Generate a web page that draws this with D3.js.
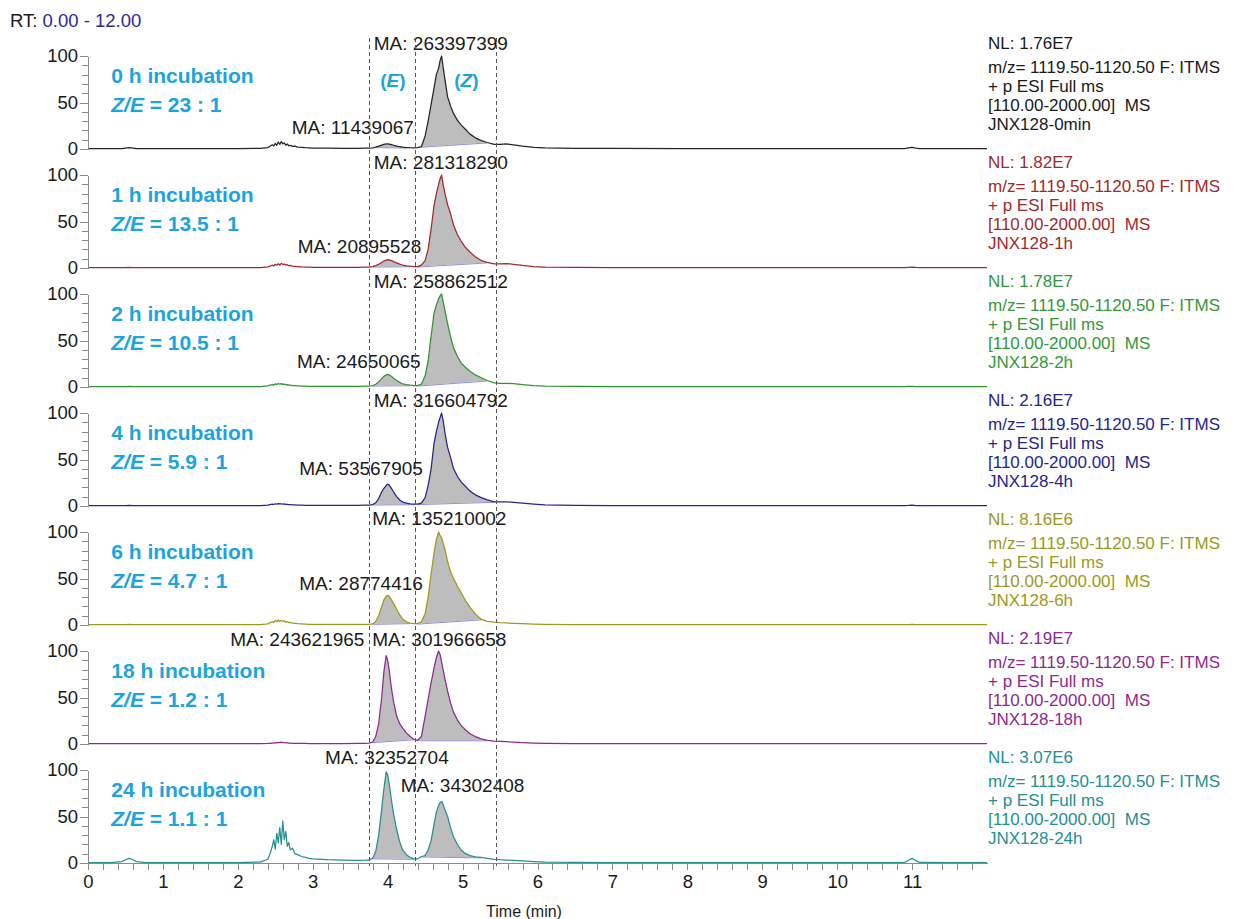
<!DOCTYPE html>
<meta charset="utf-8">
<style>
body { margin: 0; background: #fff; }
svg { font-family: Arial, "Liberation Sans", sans-serif; }
.axis path, .axis line { fill: none; stroke: #8a8a8a; stroke-width: 1; shape-rendering: crispEdges; }
.axis text { font-size: 18.5px; fill: #1a1a1a; font-family: Arial, "Liberation Sans", sans-serif; }
.trace { fill: none; stroke-width: 1.25; stroke-linejoin: round; }
.area { fill: #bdbdbd; stroke: none; }
.ibase { fill: none; stroke: #9090dd; stroke-width: 1; }
.ma { font-size: 19px; fill: #1a1a1a; }
.tag { font-size: 21px; font-weight: bold; fill: #1ba4de; }
.info { font-size: 17px; }
.cut { stroke: #555; stroke-width: 1; stroke-dasharray: 4,3; shape-rendering: crispEdges; }
</style>
<body>
<script src="https://d3js.org/d3.v7.min.js"></script>
<script>
// retention time grid (min), shared by all traces
var rt = [
  0, 0.30, 0.45, 0.50, 0.55, 0.60, 0.65, 0.75, 1.00, 1.50, 2.00,
  2.30, 2.40, 2.43, 2.46, 2.48, 2.50, 2.52, 2.54, 2.56, 2.58, 2.60, 2.62, 2.64, 2.66, 2.68, 2.70, 2.73, 2.76, 2.80, 2.85, 2.90, 2.95, 3.00,
  3.20, 3.40, 3.60, 3.70,
  3.75, 3.80, 3.84, 3.88, 3.92, 3.95, 3.98, 4.00, 4.02, 4.05, 4.08, 4.12, 4.16, 4.20, 4.25, 4.30, 4.35,
  4.40, 4.45, 4.50, 4.54, 4.58, 4.62, 4.65, 4.68, 4.70, 4.72, 4.74, 4.77, 4.80, 4.84, 4.88, 4.93, 4.98, 5.04, 5.10, 5.17, 5.25, 5.33, 5.42,
  5.50, 5.58, 5.68, 5.80, 5.95, 6.10, 6.50, 7.00, 8.00, 9.00, 10.00, 10.90, 10.95, 11.00, 11.05, 11.10, 11.50, 12.00
];

// relative abundance (%) per incubation time
var int0h = [
  0.3, 0.3, 0.4, 1.0, 1.6, 1.0, 0.4, 0.3, 0.3, 0.3, 0.4,
  0.6, 1.5, 3.0, 4.5, 3.2, 6.0, 4.0, 7.5, 5.0, 8.0, 5.5, 6.5, 4.0, 5.5, 3.5, 4.0, 2.8, 3.0, 2.0, 1.8, 1.4, 1.2, 1.0,
  0.9, 0.8, 0.8, 0.9,
  1.0, 1.3, 2.0, 3.0, 4.2, 5.0, 5.4, 5.5, 5.3, 4.8, 4.0, 3.2, 2.6, 2.0, 1.6, 1.4, 1.3,
  1.4, 2.5, 14, 30, 48, 66, 80, 87, 95, 100, 88, 72, 56, 46, 38, 31, 26, 21, 16, 12, 9, 7, 5,
  5, 5.5, 4.5, 3, 1.8, 1.2, 0.8, 0.6, 0.5, 0.5, 0.5, 0.5, 1.2, 1.8, 1.0, 0.5, 0.4, 0.4
];
var int1h = [
  0.3, 0.3, 0.3, 0.5, 0.8, 0.5, 0.3, 0.3, 0.3, 0.3, 0.3,
  0.5, 1.2, 2.0, 3.0, 2.2, 4.0, 3.0, 4.5, 3.2, 5.0, 3.8, 4.2, 3.0, 3.6, 2.4, 2.8, 2.0, 1.8, 1.5, 1.2, 1.0, 0.9, 0.8,
  0.8, 0.8, 0.8, 0.9,
  1.0, 1.5, 2.5, 4.0, 6.0, 7.5, 8.5, 9.0, 8.8, 8.0, 6.8, 5.5, 4.2, 3.2, 2.4, 1.9, 1.6,
  1.5, 3, 8, 20, 42, 68, 80, 90, 96, 100, 90, 78, 68, 58, 46, 36, 29, 22, 17, 12, 8, 6, 4.5,
  4.5, 4.8, 4.0, 2.8, 1.6, 1.0, 0.6, 0.5, 0.4, 0.4, 0.4, 0.4, 0.7, 1.0, 0.6, 0.4, 0.3, 0.3
];
var int2h = [
  0.3, 0.3, 0.3, 0.5, 0.8, 0.5, 0.3, 0.3, 0.3, 0.3, 0.3,
  0.5, 1.2, 2.0, 2.6, 2.0, 3.4, 2.6, 3.8, 3.0, 3.6, 2.8, 3.0, 2.4, 2.6, 2.0, 2.0, 1.6, 1.4, 1.2, 1.0, 0.9, 0.8, 0.8,
  0.8, 0.8, 0.8, 0.9,
  1.0, 1.5, 3.0, 5.5, 9.0, 11.5, 13.0, 13.5, 13.0, 11.5, 9.5, 7.0, 5.0, 3.5, 2.5, 1.9, 1.6,
  1.5, 3, 12, 28, 55, 80, 88, 95, 98, 100, 92, 80, 68, 54, 42, 33, 26, 21, 17, 13, 10, 7, 4.5,
  4, 4, 3.5, 2.5, 1.5, 1.0, 0.6, 0.5, 0.4, 0.4, 0.4, 0.4, 0.6, 0.8, 0.5, 0.4, 0.3, 0.3
];
var int4h = [
  0.3, 0.3, 0.3, 0.4, 0.6, 0.4, 0.3, 0.3, 0.3, 0.3, 0.3,
  0.5, 1.0, 1.5, 2.0, 1.6, 2.4, 2.0, 2.6, 2.2, 2.4, 2.0, 2.2, 1.8, 1.8, 1.5, 1.5, 1.3, 1.2, 1.0, 0.9, 0.8, 0.7, 0.7,
  0.7, 0.7, 0.8, 0.9,
  1.0, 1.5, 3.5, 8, 15, 19, 22, 23.5, 22.5, 19, 15, 10, 6.5, 4.2, 3.0, 2.3, 2.0,
  2.0, 3.0, 9, 22, 40, 68, 80, 90, 95, 100, 92, 76, 63, 52, 40, 32, 26, 21, 16, 12, 9, 6.5, 4.5,
  4.5, 4.5, 4, 3, 2, 1.2, 0.7, 0.5, 0.4, 0.4, 0.4, 0.4, 0.6, 0.9, 0.5, 0.4, 0.3, 0.3
];
var int6h = [
  0.3, 0.3, 0.3, 0.5, 0.7, 0.5, 0.3, 0.3, 0.3, 0.3, 0.3,
  0.5, 1.2, 2.5, 3.5, 2.8, 5.0, 3.5, 5.5, 4.0, 5.2, 3.6, 4.5, 3.0, 3.8, 2.5, 2.8, 2.0, 1.8, 1.4, 1.2, 1.0, 0.8, 0.7,
  0.6, 0.6, 0.6, 0.6,
  0.8, 1.2, 3.5, 10, 20, 27, 31, 32, 31, 27, 23, 17, 11, 6.5, 3.5, 2.0, 1.5,
  1.5, 3.5, 12, 30, 55, 78, 92, 100, 96, 94, 88, 80, 68, 57, 50, 42, 35, 26, 19, 12, 6, 4, 3,
  2.5, 2.2, 1.8, 1.4, 1.0, 0.8, 0.5, 0.4, 0.3, 0.3, 0.3, 0.3, 0.5, 0.7, 0.4, 0.3, 0.3, 0.3
];
var int18h = [
  0.3, 0.3, 0.3, 0.4, 0.5, 0.4, 0.3, 0.3, 0.3, 0.3, 0.3,
  0.4, 0.6, 0.8, 1.0, 0.9, 1.4, 1.2, 1.8, 1.5, 2.0, 1.4, 1.6, 1.2, 1.2, 1.0, 1.0, 0.8, 0.8, 0.7, 0.6, 0.6, 0.5, 0.5,
  0.5, 0.5, 0.6, 0.8,
  1.0, 2, 8, 22, 50, 78, 95, 90, 80, 60, 45, 30, 22, 17, 12, 8, 5,
  4, 8, 30, 48, 66, 82, 93, 100, 96, 88, 80, 68, 57, 44, 34, 26, 20, 15, 11, 8, 5.5, 4, 3.2,
  2.8, 2.5, 2.0, 1.5, 1.0, 0.7, 0.5, 0.4, 0.3, 0.3, 0.3, 0.3, 0.4, 0.5, 0.4, 0.3, 0.3, 0.3
];
var int24h = [
  0.3, 0.5, 1.5, 3.5, 5.0, 3.5, 1.5, 0.6, 0.4, 0.4, 0.5,
  1.0, 4, 10, 18, 25, 15, 32, 22, 38, 20, 45, 25, 34, 18, 22, 14, 16, 10, 9, 7, 6, 5, 4.5,
  3.5, 3.0, 2.8, 3.0,
  3.2, 5, 12, 30, 58, 80, 98, 95, 85, 68, 52, 36, 23, 14, 9, 6, 4.5,
  4.5, 7, 8, 14, 24, 42, 55, 62, 65, 66, 63, 56, 50, 38, 28, 20, 14, 10, 8, 6.5, 6, 5, 4,
  3.5, 3.2, 2.8, 2.2, 1.5, 1.0, 0.6, 0.5, 0.4, 0.4, 0.4, 0.5, 3, 5, 2.5, 0.6, 0.4, 0.4
];

var hours = ["0 h", "1 h", "2 h", "4 h", "6 h", "18 h", "24 h"];
var ratios = ["23 : 1", "13.5 : 1", "10.5 : 1", "5.9 : 1", "4.7 : 1", "1.2 : 1", "1.1 : 1"];
var nl = ["1.76E7", "1.82E7", "1.78E7", "2.16E7", "8.16E6", "2.19E7", "3.07E6"];
var files = ["JNX128-0min", "JNX128-1h", "JNX128-2h", "JNX128-4h", "JNX128-6h", "JNX128-18h", "JNX128-24h"];
var maE = ["11439067", "20895528", "24650065", "53567905", "28774416", "243621965", "32352704"];
var maZ = ["263397399", "281318290", "258862512", "316604792", "135210002", "301966658", "34302408"];
// integration windows (min)
var winE = [[3.84, 4.25], [3.80, 4.30], [3.80, 4.30], [3.80, 4.35], [3.80, 4.30], [3.80, 4.35], [3.80, 4.35]];
var winZ = [[4.45, 5.33], [4.40, 5.33], [4.40, 5.33], [4.40, 5.42], [4.40, 5.25], [4.40, 5.33], [4.45, 5.25]];
var cuts = [3.75, 4.37, 5.45];
var xTicks = [0, 1, 2, 3, 4, 5, 6, 7, 8, 9, 10, 11];
var yTicks = [0, 50, 100];
var yMinor = [10, 20, 30, 40, 60, 70, 80, 90];

var traces = [int0h, int1h, int2h, int4h, int6h, int18h, int24h];
var colors = ["#262626", "#a3282d", "#2f962f", "#25258a", "#9c9c1c", "#8e2a8e", "#24918f"];
var textColors = ["#1a1a1a", "#9e2a2e", "#34983a", "#25258a", "#9a9a22", "#8e2a8e", "#24918f"];

var width = 1256, height = 919;
var panelTop = 56, panelStep = 119, panelH = 93;

var svg = d3.select("body").append("svg")
    .attr("width", width)
    .attr("height", height);

var x = d3.scaleLinear().domain([0, 12]).range([88, 987]);

// header
var rtText = svg.append("text")
    .attr("x", 10).attr("y", 20)
    .attr("dominant-baseline", "central")
    .style("font-size", "18.5px");
rtText.append("tspan").attr("fill", "#1a1a1a").text("RT: ");
rtText.append("tspan").attr("fill", "#2a2a96").text("0.00 - 12.00");

// annotation placement: [time, anchor, % height]
var posE = [[4.35, "end", 22.6], [4.45, "end", 22.6], [4.44, "end", 27], [4.47, "end", 40], [4.47, "end", 45], [3.69, "end", 112], [3.99, "middle", 113]];
var posZ = [[4.71, "middle", 113], [4.71, "middle", 113], [4.71, "middle", 113], [4.71, "middle", 113], [4.69, "middle", 114], [4.69, "middle", 112], [5.0, "middle", 83]];

var yScales = [];

traces.forEach(function(vals, i) {
    var base = panelTop + panelH + i * panelStep;
    var y = d3.scaleLinear().domain([0, 100]).range([base, base - panelH]);
    yScales.push(y);
    var g = svg.append("g");
    var pts = rt.map(function(t, k) { return {t: t, v: vals[k]}; });

    // integrated peak areas
    [winE[i], winZ[i]].forEach(function(w) {
        var sub = pts.filter(function(p) { return p.t >= w[0] && p.t <= w[1]; });
        var a = sub[0], b = sub[sub.length - 1];
        var baseV = function(p) { return a.v + (b.v - a.v) * (p.t - a.t) / (b.t - a.t); };
        g.append("path")
            .attr("class", "area")
            .attr("d", d3.area()
                .x(function(p) { return x(p.t); })
                .y0(function(p) { return y(baseV(p)); })
                .y1(function(p) { return y(p.v); })(sub));
        g.append("path")
            .attr("class", "ibase")
            .attr("d", d3.line()
                .x(function(p) { return x(p.t); })
                .y(function(p) { return y(baseV(p)) + 0.5; })([a, b]));
    });

    g.append("path")
        .attr("class", "trace")
        .attr("stroke", colors[i])
        .attr("d", d3.line()
            .x(function(p) { return x(p.t); })
            .y(function(p) { return y(p.v); })(pts));

    // y axis
    g.append("g")
        .attr("class", "axis")
        .attr("transform", "translate(" + x(0) + ",0)")
        .call(d3.axisLeft(y).tickValues(yTicks).tickSize(8).tickSizeOuter(0).tickPadding(2));
    g.append("g")
        .attr("class", "axis")
        .attr("transform", "translate(" + x(0) + ",0)")
        .call(d3.axisLeft(y).tickValues(yMinor).tickSize(6).tickSizeOuter(0).tickFormat(""));

    // incubation labels
    g.append("text")
        .attr("class", "tag")
        .attr("x", x(0.31)).attr("y", y(78.5))
        .attr("dominant-baseline", "central")
        .text(hours[i] + " incubation");
    var r = g.append("text")
        .attr("class", "tag")
        .attr("x", x(0.31)).attr("y", y(48.5))
        .attr("dominant-baseline", "central");
    r.append("tspan").style("font-style", "italic").text("Z/E");
    r.append("tspan").text(" = " + ratios[i]);

    // peak area labels
    g.append("text")
        .attr("class", "ma")
        .attr("x", x(posE[i][0])).attr("y", y(posE[i][2]))
        .attr("text-anchor", posE[i][1])
        .attr("dominant-baseline", "central")
        .text("MA: " + maE[i]);
    g.append("text")
        .attr("class", "ma")
        .attr("x", x(posZ[i][0])).attr("y", y(posZ[i][2]))
        .attr("text-anchor", posZ[i][1])
        .attr("dominant-baseline", "central")
        .text("MA: " + maZ[i]);

    // scan info on the right
    var lines = ["NL: " + nl[i], "m/z= 1119.50-1120.50 F: ITMS", "+ p ESI Full ms", "[110.00-2000.00]  MS", files[i]];
    var offs = [-13, 11, 30, 49, 68];
    lines.forEach(function(s, k) {
        g.append("text")
            .attr("class", "info")
            .attr("fill", textColors[i])
            .attr("x", 988)
            .attr("y", y(100) + offs[k])
            .attr("dominant-baseline", "central")
            .style("white-space", "pre")
            .text(s);
    });
});

// dashed window markers
var yTop = yScales[0](119), yBot = yScales[6](0) + 3;
svg.selectAll(".cut")
    .data(cuts)
    .enter().append("line")
    .attr("class", "cut")
    .attr("x1", function(d) { return Math.round(x(d)) + 0.5; })
    .attr("x2", function(d) { return Math.round(x(d)) + 0.5; })
    .attr("y1", yTop)
    .attr("y2", yBot);

// (E) / (Z) marks
[["E", 4.07], ["Z", 5.05]].forEach(function(m) {
    var t = svg.append("text")
        .attr("class", "tag")
        .style("font-size", "19px")
        .attr("x", x(m[1])).attr("y", yScales[0](74))
        .attr("text-anchor", "middle")
        .attr("dominant-baseline", "central");
    t.append("tspan").text("(");
    t.append("tspan").style("font-style", "italic").text(m[0]);
    t.append("tspan").text(")");
});

// x axis
var xAxisY = yScales[6](0);
svg.append("g")
    .attr("class", "axis")
    .attr("transform", "translate(0," + xAxisY + ")")
    .call(d3.axisBottom(x).tickValues(d3.range(0, 12, 0.2)).tickSize(7).tickSizeOuter(0).tickFormat(""));
svg.append("g")
    .attr("class", "axis")
    .attr("transform", "translate(0," + xAxisY + ")")
    .call(d3.axisBottom(x).tickValues(xTicks).tickSize(7).tickSizeOuter(0).tickPadding(5).tickFormat(d3.format("d")));

svg.append("text")
    .attr("x", x(5.82)).attr("y", 911)
    .attr("text-anchor", "middle")
    .attr("dominant-baseline", "central")
    .style("font-size", "16px")
    .attr("fill", "#1a1a1a")
    .text("Time (min)");
</script>
</body>
